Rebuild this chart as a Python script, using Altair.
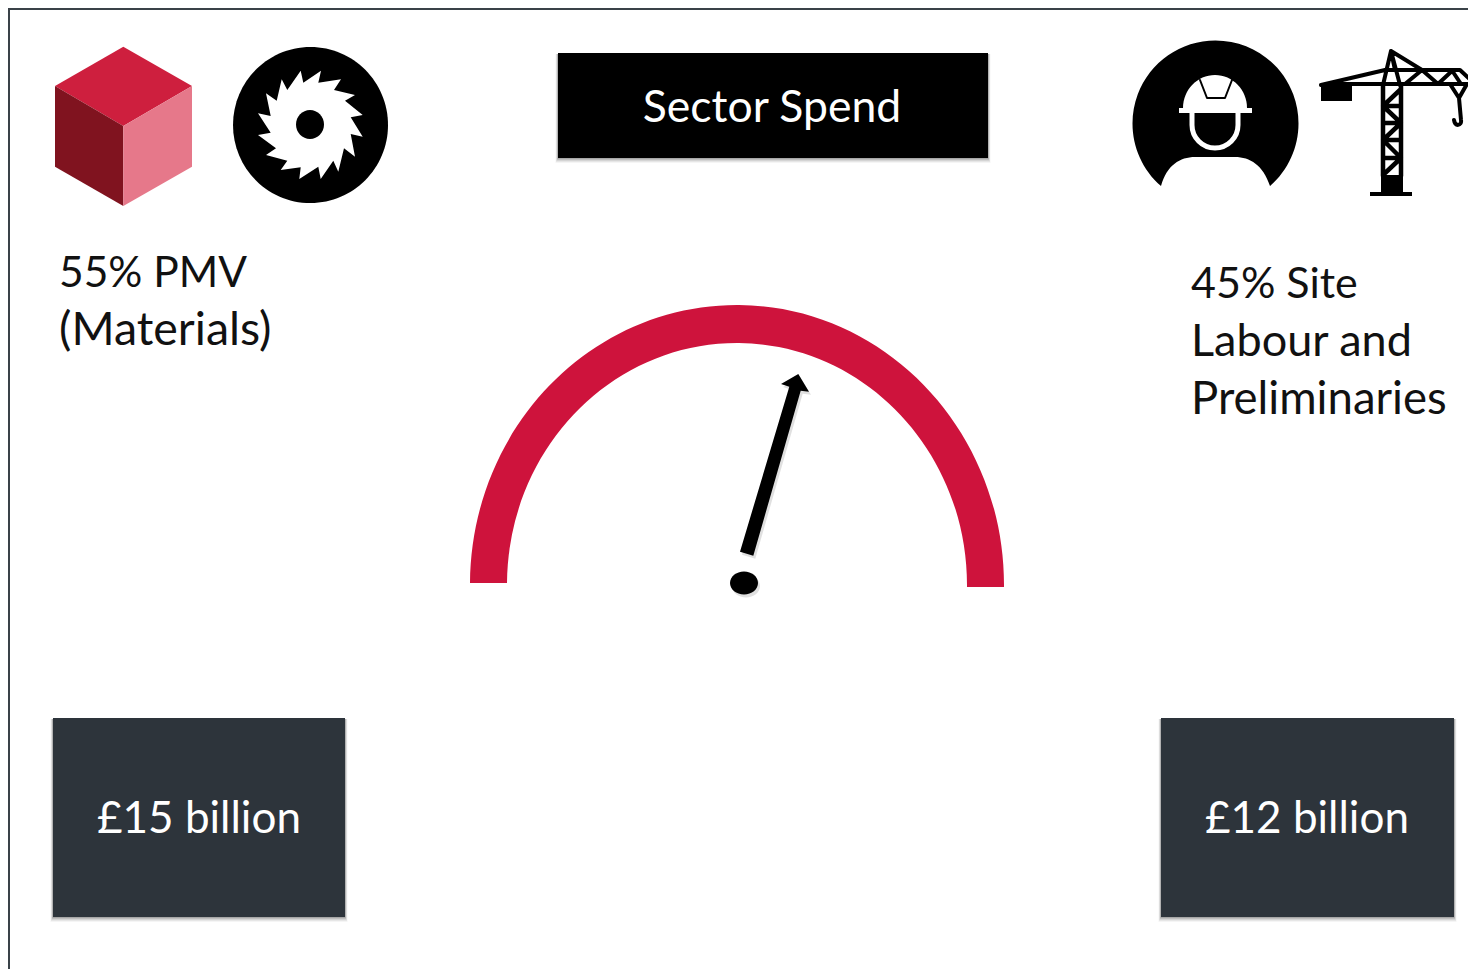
import altair as alt
import pandas as pd

# ---- content -------------------------------------------------------------
heading = ["Sector Spend"]
heading_x = [772]
heading_y = [122]
left_lines = ["55% PMV", "(Materials)"]
left_y = [287, 345]
left_sizes = [42.5, 46.5]
right_lines = ["45% Site", "Labour and", "Preliminaries"]
right_y = [298, 356, 414]
right_sizes = [43, 45, 45.5]
amounts = ["£15 billion", "£12 billion"]
amount_x = [199, 1307]
amount_y = [833, 833]

box_names = ["heading", "materials", "labour"]
box_x = [558, 53, 1161]
box_x2 = [988, 345, 1454]
box_y = [53, 718, 718]
box_y2 = [158, 917, 917]
box_colors = ["#000000", "#2d343b", "#2d343b"]

FONT = "Lato"
RED = "#ce133c"
FRAME = "#3a4248"

X = alt.X("x:Q", scale=alt.Scale(domain=[8, 1468], range=[0, 1460]), axis=None)
Y = alt.Y("y:Q", scale=alt.Scale(domain=[8, 969], range=[0, 961]), axis=None)


def shape(path, fill=None, stroke=None, width=0, opacity=1.0):
    """A vector glyph; size 4 makes one path unit one chart unit."""
    opts = dict(shape=path, size=4, opacity=opacity)
    if fill:
        opts.update(filled=True, fill=fill, strokeWidth=0)
    else:
        opts.update(filled=False, fill="transparent", stroke=stroke,
                    strokeWidth=width, strokeCap="round", strokeJoin="round")
    return alt.Chart(pd.DataFrame({"x": [0], "y": [0]})).mark_point(**opts).encode(x=X, y=Y)


def poly(points):
    return "M " + " L ".join(f"{a:.1f} {b:.1f}" for a, b in points) + " Z"


def zoomed(points, ox, oy):
    return [(ox + a / 3, oy + b / 3) for a, b in points]


def rects(x, x2, y, y2, color, opacity=1.0):
    df = pd.DataFrame({"x": x, "x2": x2, "y": y, "y2": y2})
    return alt.Chart(df).mark_rect(color=color, opacity=opacity).encode(
        x=X, x2="x2:Q", y=Y, y2="y2:Q")


def texts(labels, x, y, color, size, align):
    df = pd.DataFrame({"t": labels, "x": x, "y": y})
    return alt.Chart(df).mark_text(font=FONT, fontSize=size, color=color, align=align,
                                   baseline="alphabetic").encode(x=X, y=Y, text="t:N")


layers = []

# frame
layers.append(rects([8], [1468], [8], [10], FRAME))
layers.append(rects([8], [10], [8], [969], FRAME))

# box shadows
for grow, op in [(5, 0.04), (4, 0.06), (3, 0.08), (2, 0.1), (1, 0.12)]:
    layers.append(rects([a - grow / 2 for a in box_x], [a + grow / 2 for a in box_x2],
                        [a + 1 for a in box_y], [a + grow for a in box_y2], "#000000", op))
# boxes
for i in range(3):
    layers.append(rects([box_x[i]], [box_x2[i]], [box_y[i]], [box_y2[i]], box_colors[i]))

# cube
c = lambda p: zoomed(p, 40, 30)
layers.append(shape(poly(c([(250, 50), (456, 168), (250, 288), (45, 168)])), "#ce1f3e"))
layers.append(shape(poly(c([(45, 168), (250, 288), (250, 528), (45, 410)])), "#80131f"))
layers.append(shape(poly(c([(456, 168), (250, 288), (250, 528), (456, 410)])), "#e6788a"))

# saw
layers.append(shape("M 233 125 A 77.5 78 0 1 1 388 125 A 77.5 78 0 1 1 233 125 Z", "#000000"))
saw = [(843, 122), (835, 158), (903, 148), (882, 180), (945, 195), (915, 212), (968, 255),
       (932, 262), (968, 320), (932, 312), (945, 380), (912, 355), (895, 425), (880, 392),
       (842, 447), (835, 410), (778, 447), (782, 412), (722, 420), (742, 392), (678, 375),
       (708, 355), (654, 315), (692, 308), (654, 250), (692, 258), (678, 190), (710, 212),
       (725, 148), (742, 180), (782, 122), (790, 158)]
layers.append(shape(poly(c(saw)), "#ffffff"))
layers.append(shape("M 296 124.5 A 14 14.5 0 1 1 324 124.5 A 14 14.5 0 1 1 296 124.5 Z", "#000000"))

# worker
layers.append(shape(
    "M 1161 186 A 83 83 0 1 1 1270 186 C 1263 165 1250 157 1235 157 L 1195 157 "
    "C 1180 157 1167 165 1161 186 Z", "#000000"))
layers.append(shape("M 1183 108 A 32 33 0 0 1 1247 108 Z", "#ffffff"))
layers.append(shape("M 1179 108 L 1252 108 L 1252 113 L 1179 113 Z", "#ffffff"))
layers.append(shape("M 1200 80 L 1207 98 L 1225 98 L 1232 80", stroke="#000000", width=2))
layers.append(shape("M 1192 113 L 1192 125 A 23 23 0 0 0 1238 125 L 1238 113", stroke="#ffffff", width=5))

# crane
layers.append(shape("M 1321 83 L 1352 83 L 1352 101 L 1321 101 Z", "#000000"))
layers.append(shape("M 1381 175 L 1403 175 L 1403 192 L 1381 192 Z", "#000000"))
layers.append(shape("M 1370 192 L 1412 192 L 1412 196 L 1370 196 Z", "#000000"))
crane = ("M 1321 85 L 1385 70 M 1325 84 L 1473 84 M 1385 70 L 1460 70 L 1474 83 "
         "M 1391 51 L 1383 85 M 1391 51 L 1400 85 M 1391 51 L 1422 70 M 1391 51 L 1395 70 "
         "M 1422 70 L 1405 84 M 1422 70 L 1438 84 M 1438 84 L 1453 70 M 1453 72 L 1461 84 "
         "M 1450 84 L 1459 98 L 1467 84 M 1459 98 L 1461 120 C 1462 126 1455 127 1454 120")
layers.append(shape(crane, stroke="#000000", width=4))
tower = ("M 1383 85 L 1383 176 M 1401 85 L 1401 176 M 1383 106 L 1401 106 M 1383 123 L 1401 123 "
         "M 1383 140 L 1401 140 M 1383 158 L 1401 158 "
         "M 1383 106 L 1401 89 M 1383 106 L 1401 123 M 1383 140 L 1401 123 "
         "M 1383 140 L 1401 158 M 1383 175 L 1401 158")
layers.append(shape(tower, stroke="#000000", width=4.5))

# gauge
layers.append(shape("M 470 583 A 267 280 0 0 1 1004 587 L 967 587 A 230 242 0 0 0 507 583 Z", RED))
# needle and hub, with their soft shadows
needle_pts = zoomed([(90, 575), (130, 587), (272, 92), (297, 95), (265, 42), (213, 72), (238, 80)], 710, 360)
layers.append(shape(poly([(a + 2, b + 3) for a, b in needle_pts]), "#000000", opacity=0.12))
layers.append(shape(poly(needle_pts), "#000000"))
layers.append(shape("M 732 586 A 14 11.5 0 1 1 760 586 A 14 11.5 0 1 1 732 586 Z", "#000000", opacity=0.12))
layers.append(shape("M 730 583 A 14 11.5 0 1 1 758 583 A 14 11.5 0 1 1 730 583 Z", "#000000"))

# text
layers.append(texts(heading, heading_x, heading_y, "#ffffff", 44.5, "center"))
for i in range(2):
    layers.append(texts([left_lines[i]], [59], [left_y[i]], "#111111", left_sizes[i], "left"))
for i in range(3):
    layers.append(texts([right_lines[i]], [1191], [right_y[i]], "#111111", right_sizes[i], "left"))
layers.append(texts(amounts, amount_x, amount_y, "#ffffff", 44, "center"))

chart = alt.layer(*layers).properties(
    width=1460, height=961, padding=0,
    autosize=alt.AutoSizeParams(type="none"),
).configure_view(stroke=None)

chart.save("out.html", embed_options={"renderer": "svg", "actions": False})
